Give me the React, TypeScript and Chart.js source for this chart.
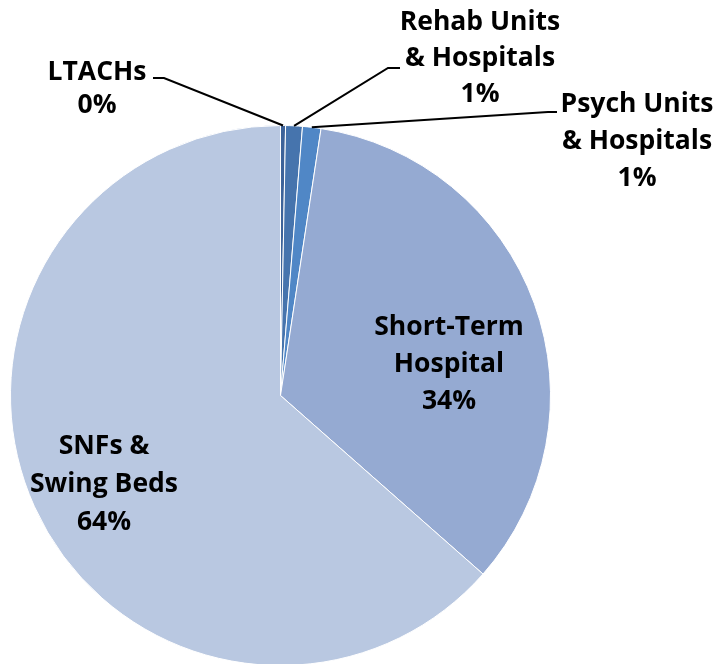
import React, { useEffect, useRef } from "react";
import { Chart, registerables } from "chart.js";
Chart.register(...registerables);

const categories = ["LTACHs", "Rehab Units & Hospitals", "Psych Units & Hospitals", "Short-Term Hospital", "SNFs & Swing Beds"];
const values = [0.3, 1.0, 1.1, 34.1, 63.5];
const pctLabels = ["0%", "1%", "1%", "34%", "64%"];
const labelLines = [["LTACHs", pctLabels[0]], ["Rehab Units", "& Hospitals", pctLabels[1]], ["Psych Units", "& Hospitals", pctLabels[2]], ["Short-Term", "Hospital", pctLabels[3]], ["SNFs &", "Swing Beds", pctLabels[4]]];
const colors = ["#3D6399", "#4674AD", "#5087C6", "#95AAD2", "#B9C8E1"];

const labelPos = [
  { x: 97, y: 72, lh: 33, leader: [[153, 78], [164, 78]] },
  { x: 480, y: 22, lh: 36, leader: [[400, 68], [388, 68]] },
  { x: 637, y: 104, lh: 37, leader: [[557, 112], [548, 112]] },
  { x: 449, y: 327, lh: 37, leader: null },
  { x: 104, y: 446, lh: 38, leader: null },
];

const labelPlugin = {
  id: "labels",
  afterDatasetsDraw(chart: any) {
    const ctx = chart.ctx;
    const meta = chart.getDatasetMeta(0);
    ctx.save();
    ctx.font = "bold 26.5px 'Open Sans'";
    ctx.fillStyle = "#000";
    ctx.textAlign = "center";
    ctx.textBaseline = "middle";
    labelLines.forEach((lines, i) => {
      const p = labelPos[i];
      lines.forEach((t, j) => ctx.fillText(t, p.x, p.y + j * p.lh));
      if (p.leader) {
        const arc = meta.data[i];
        const { x, y, startAngle, endAngle, outerRadius } = arc.getProps(["x", "y", "startAngle", "endAngle", "outerRadius"], true);
        const mid = (startAngle + endAngle) / 2;
        const ax = x + Math.cos(mid) * outerRadius;
        const ay = y + Math.sin(mid) * outerRadius;
        ctx.strokeStyle = "#000";
        ctx.lineWidth = 2;
        ctx.beginPath();
        ctx.moveTo(p.leader[0][0], p.leader[0][1]);
        ctx.lineTo(p.leader[1][0], p.leader[1][1]);
        ctx.lineTo(ax, ay);
        ctx.stroke();
      }
    });
    ctx.restore();
  },
};

export default function App() {
  const ref = useRef<HTMLCanvasElement>(null);
  useEffect(() => {
    document.body.style.margin = "0";
    document.body.style.overflow = "hidden";
    const chart = new Chart(ref.current!, {
      type: "pie",
      data: {
        labels: categories,
        datasets: [{ data: values, backgroundColor: colors, borderColor: "#ffffff", borderWidth: 1 }],
      },
      options: {
        animation: false,
        responsive: false,
        layout: { padding: { left: 10, right: 166, top: 125, bottom: 0 } },
        plugins: { legend: { display: false }, tooltip: { enabled: false } },
      },
      plugins: [labelPlugin],
    });
    return () => chart.destroy();
  }, []);
  return (
    <div style={{ position: "absolute", left: 0, top: 0, width: 717, height: 666 }}>
      <canvas ref={ref} width={717} height={666} style={{ width: 717, height: 666 }} />
    </div>
  );
}
